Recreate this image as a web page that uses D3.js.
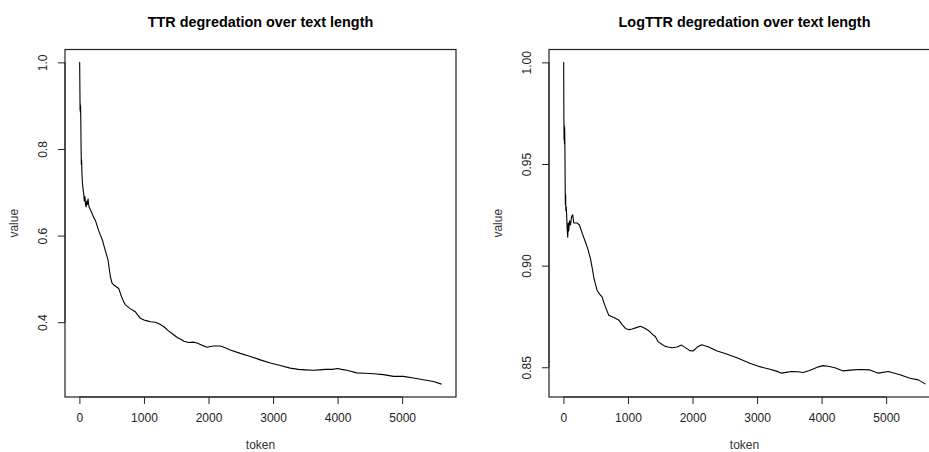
<!DOCTYPE html>
<html>
<head>
<meta charset="utf-8">
<script src="https://cdn.jsdelivr.net/npm/d3@7"></script>
<style>
  body { margin: 0; background: #fff; }
  text { font-family: "Liberation Sans", Arial, sans-serif; }
</style>
</head>
<body>
<div class="canvas"></div>
<script>
// values
const ttrToken = [1, 4, 8, 10, 12, 15, 18, 22, 26, 30, 34, 40, 48, 58, 67, 75, 85, 95, 103, 115, 125, 134, 142, 150, 170, 196, 220, 248, 290, 325, 360, 392, 420, 444, 465, 480, 505, 531, 570, 609, 650, 686, 712, 780, 867, 944, 1000, 1048, 1100, 1176, 1240, 1305, 1380, 1460, 1520, 1563, 1620, 1692, 1760, 1821, 1900, 1976, 2030, 2079, 2183, 2260, 2337, 2492, 2647, 2802, 2957, 3111, 3266, 3395, 3500, 3628, 3720, 3808, 3920, 3999, 4060, 4143, 4298, 4420, 4556, 4711, 4866, 5020, 5175, 5330, 5485, 5610];
const ttrValue = [1.0, 1.0, 0.93, 0.89, 0.905, 0.885, 0.9, 0.86, 0.8, 0.765, 0.775, 0.74, 0.72, 0.705, 0.696, 0.68, 0.69, 0.672, 0.666, 0.68, 0.672, 0.685, 0.672, 0.666, 0.66, 0.651, 0.642, 0.635, 0.615, 0.601, 0.588, 0.570, 0.556, 0.543, 0.52, 0.505, 0.49, 0.486, 0.482, 0.478, 0.46, 0.447, 0.440, 0.432, 0.424, 0.409, 0.405, 0.403, 0.401, 0.400, 0.396, 0.390, 0.38, 0.371, 0.364, 0.361, 0.356, 0.353, 0.354, 0.352, 0.347, 0.342, 0.344, 0.345, 0.345, 0.341, 0.336, 0.328, 0.321, 0.313, 0.306, 0.300, 0.294, 0.291, 0.290, 0.289, 0.290, 0.291, 0.291, 0.293, 0.291, 0.289, 0.283, 0.282, 0.281, 0.279, 0.275, 0.275, 0.271, 0.267, 0.263, 0.257];

const logToken = [1, 4, 7, 10, 13, 16, 19, 22, 26, 30, 34, 38, 44, 50, 58, 67, 75, 82, 95, 110, 125, 144, 160, 186, 210, 248, 290, 341, 380, 419, 445, 470, 495, 521, 560, 599, 625, 651, 691, 702, 780, 857, 910, 961, 1020, 1064, 1130, 1194, 1260, 1322, 1380, 1426, 1467, 1529, 1570, 1620, 1684, 1760, 1829, 1907, 1958, 2009, 2070, 2140, 2242, 2372, 2527, 2707, 2888, 3043, 3198, 3300, 3380, 3450, 3535, 3640, 3715, 3800, 3870, 3950, 4025, 4100, 4206, 4335, 4490, 4600, 4749, 4878, 5033, 5214, 5369, 5498, 5610];
const logValue = [1.0, 1.0, 0.975, 0.962, 0.969, 0.96, 0.968, 0.962, 0.945, 0.93, 0.935, 0.927, 0.929, 0.925, 0.918, 0.914, 0.921, 0.917, 0.922, 0.92, 0.924, 0.925, 0.921, 0.921, 0.921, 0.920, 0.916, 0.9116, 0.908, 0.9034, 0.899, 0.8944, 0.891, 0.8879, 0.886, 0.8846, 0.882, 0.8797, 0.8765, 0.8756, 0.8745, 0.8732, 0.871, 0.8691, 0.8685, 0.8688, 0.8695, 0.8702, 0.8692, 0.8680, 0.8662, 0.865, 0.8626, 0.8612, 0.8604, 0.860, 0.8596, 0.8600, 0.8609, 0.8593, 0.8582, 0.858, 0.8598, 0.8611, 0.8601, 0.8581, 0.8565, 0.8544, 0.8520, 0.8503, 0.8490, 0.8481, 0.8471, 0.8475, 0.8479, 0.8478, 0.8474, 0.8483, 0.8492, 0.8502, 0.8508, 0.8505, 0.8498, 0.8482, 0.8487, 0.8489, 0.8487, 0.8471, 0.8479, 0.8463, 0.8446, 0.8438, 0.8417];

const xTicks = [0, 1000, 2000, 3000, 4000, 5000];
const ttrTicks = [0.4, 0.6, 0.8, 1.0];
const logTicks = [0.85, 0.90, 0.95, 1.00];

const titles = ["TTR degredation over text length", "LogTTR degredation over text length"];

const dims = {width: 929, height: 452};
const box = {top: 49.5, bottom: 397, w: 391};

const svg = d3.select(".canvas").append("svg")
    .attr("width", dims.width)
    .attr("height", dims.height);

svg.append("rect")
    .attr("width", dims.width)
    .attr("height", dims.height)
    .attr("fill", "#fff");

// R-style 4% padding around the data range
const pad = (ext) => {
    const d = (ext[1] - ext[0]) * 0.04;
    return [ext[0] - d, ext[1] + d];
};

const drawPanel = (left, tokens, values, yTicks, yFmt, title) => {
    const x = d3.scaleLinear()
        .domain(pad(d3.extent(tokens)))
        .range([left, left + box.w]);
    const y = d3.scaleLinear()
        .domain(pad(d3.extent(values)))
        .range([box.bottom, box.top]);

    const g = svg.append("g");

    // the line
    const pts = tokens.map((t, i) => [t, values[i]]);
    g.append("path")
        .datum(pts)
        .attr("fill", "none")
        .attr("stroke", "#000")
        .attr("stroke-width", 1.1)
        .attr("stroke-linejoin", "round")
        .attr("d", d3.line().x(d => x(d[0])).y(d => y(d[1])));

    // box
    g.append("rect")
        .attr("x", left)
        .attr("y", box.top)
        .attr("width", box.w)
        .attr("height", box.bottom - box.top)
        .attr("fill", "none")
        .attr("stroke", "#222")
        .attr("stroke-width", 1.2);

    // x axis
    const xAxis = g.append("g")
        .attr("transform", `translate(0,${box.bottom})`)
        .call(d3.axisBottom(x).tickValues(xTicks).tickSize(7).tickPadding(9).tickFormat(d3.format("d")));
    xAxis.select(".domain")
        .attr("d", `M${x(xTicks[0])},0H${x(xTicks[xTicks.length - 1])}`)
        .attr("stroke", "#222");

    // y axis
    const yAxis = g.append("g")
        .attr("transform", `translate(${left},0)`)
        .call(d3.axisLeft(y).tickValues(yTicks).tickSize(7).tickFormat(d3.format(yFmt)));
    yAxis.select(".domain")
        .attr("d", `M0,${y(yTicks[0])}V${y(yTicks[yTicks.length - 1])}`)
        .attr("stroke", "#222");
    yAxis.selectAll(".tick text")
        .attr("x", null)
        .attr("dy", null)
        .attr("text-anchor", "middle")
        .attr("transform", `translate(-22,0) rotate(-90) translate(0,4.3)`);

    g.selectAll(".tick line").attr("stroke", "#222");
    g.selectAll(".tick text")
        .attr("fill", "#222")
        .style("font-size", "12px")
        .style("font-family", "'Liberation Sans', Arial, sans-serif");

    // labels
    g.append("text")
        .attr("x", left + box.w / 2)
        .attr("y", 449)
        .attr("text-anchor", "middle")
        .attr("fill", "#333")
        .style("font-size", "12px")
        .text("token");

    g.append("text")
        .attr("transform", `translate(${left - 47},${(box.top + box.bottom) / 2}) rotate(-90)`)
        .attr("text-anchor", "middle")
        .attr("fill", "#333")
        .style("font-size", "12px")
        .text("value");

    g.append("text")
        .attr("x", left + box.w / 2)
        .attr("y", 27)
        .attr("text-anchor", "middle")
        .attr("fill", "#000")
        .style("font-size", "14.4px")
        .style("font-weight", "bold")
        .text(title);
};

drawPanel(65, ttrToken, ttrValue, ttrTicks, ".1f", titles[0]);
drawPanel(549, logToken, logValue, logTicks, ".2f", titles[1]);
</script>
</body>
</html>
